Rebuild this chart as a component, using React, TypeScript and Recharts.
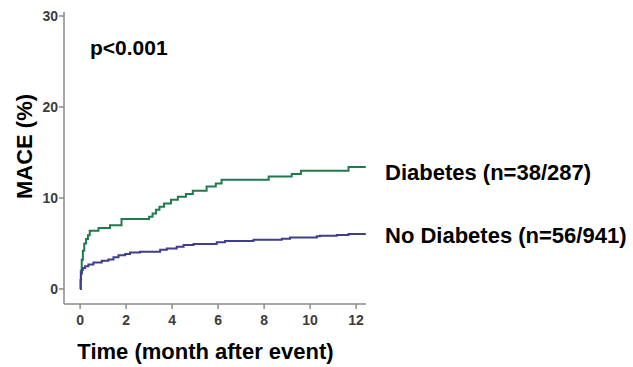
import React from "react";
import { LineChart, Line, XAxis, YAxis } from "recharts";

// months after event / cumulative MACE (%)
const monthsDiabetes = [
  0, 0.03, 0.07, 0.12, 0.18, 0.26, 0.34, 0.42, 0.8, 1.3, 1.8, 3.0, 3.15, 3.3,
  3.45, 3.65, 3.95, 4.25, 4.6, 4.9, 5.5, 5.9, 6.15, 8.2, 9.2, 9.6, 11.67, 12.42,
];
const maceDiabetes = [
  0, 2.0, 3.2, 4.2, 5.0, 5.5, 5.9, 6.4, 6.7, 7.0, 7.7, 7.95, 8.3, 8.7, 9.05,
  9.4, 9.8, 10.15, 10.45, 10.8, 11.25, 11.6, 12.0, 12.35, 12.65, 13.0, 13.4,
  13.4,
];

const monthsNoDiabetes = [
  0, 0.02, 0.04, 0.08, 0.12, 0.22, 0.36, 0.58, 0.94, 1.23, 1.45, 1.67, 1.96,
  2.17, 2.6, 3.48, 3.77, 4.2, 4.5, 4.93, 5.94, 6.3, 7.54, 8.77, 9.13, 10.29,
  10.43, 11.16, 11.67, 12.42,
];
const maceNoDiabetes = [
  0, 1.0, 1.7, 2.1, 2.3, 2.5, 2.7, 2.9, 3.1, 3.25, 3.5, 3.7, 3.85, 4.0, 4.1,
  4.3, 4.45, 4.65, 4.84, 4.95, 5.13, 5.27, 5.42, 5.53, 5.65, 5.8, 5.86, 5.93,
  6.04, 6.04,
];

const xTicks = [0, 2, 4, 6, 8, 10, 12];
const yTicks = [0, 10, 20, 30];

const diabetesLabel = "Diabetes (n=38/287)";
const noDiabetesLabel = "No Diabetes (n=56/941)";

const toRows = (ts: number[], vs: number[]) =>
  ts.map((t, i) => ({ t, v: vs[i] }));

const FONT = '"Liberation Sans", Arial, Helvetica, sans-serif';
const AXIS = "#8a8a8a";

export default function App() {
  const diabetes = toRows(monthsDiabetes, maceDiabetes);
  const noDiabetes = toRows(monthsNoDiabetes, maceNoDiabetes);

  const tickStyle = {
    fontFamily: FONT,
    fontWeight: 700,
    fontSize: 14,
    fill: "#3c3c3c",
  };

  return (
    <div
      style={{
        position: "absolute",
        left: 0,
        top: 0,
        width: 633,
        height: 367,
        background: "#fff",
      }}
    >
      <LineChart
        width={633}
        height={367}
        margin={{ top: 12, right: 267, bottom: 0, left: 0 }}
      >
        <XAxis
          type="number"
          dataKey="t"
          domain={[-0.7, 12.43]}
          ticks={xTicks}
          allowDataOverflow
          height={63}
          tickSize={5}
          tickMargin={6}
          tick={tickStyle}
          axisLine={{ stroke: AXIS, strokeWidth: 1.5 }}
          tickLine={{ stroke: AXIS, strokeWidth: 1.5 }}
        />
        <YAxis
          type="number"
          domain={[-1.65, 30.44]}
          ticks={yTicks}
          allowDataOverflow
          width={64}
          tickSize={5}
          tickMargin={1}
          tick={tickStyle}
          axisLine={{ stroke: AXIS, strokeWidth: 1.5 }}
          tickLine={{ stroke: AXIS, strokeWidth: 1.5 }}
        />
        <Line
          data={diabetes}
          dataKey="v"
          type="stepAfter"
          stroke="#1f7a4d"
          strokeWidth={2}
          dot={false}
          isAnimationActive={false}
        />
        <Line
          data={noDiabetes}
          dataKey="v"
          type="stepAfter"
          stroke="#3e3d90"
          strokeWidth={2}
          dot={false}
          isAnimationActive={false}
        />
      </LineChart>

      <svg
        width={633}
        height={367}
        style={{ position: "absolute", left: 0, top: 0, pointerEvents: "none" }}
        fontFamily={FONT}
        fontWeight={700}
        fill="#000"
      >
        <text x={90} y={55} fontSize={21}>
          p&lt;0.001
        </text>
        <text
          x={0}
          y={0}
          fontSize={22}
          textAnchor="middle"
          transform="translate(31.5,146.5) rotate(-90)"
        >
          MACE (%)
        </text>
        <text x={205.5} y={358.5} fontSize={22} textAnchor="middle">
          Time (month after event)
        </text>
        <text x={385} y={179.5} fontSize={22}>
          {diabetesLabel}
        </text>
        <text x={385} y={243} fontSize={22}>
          {noDiabetesLabel}
        </text>
      </svg>
    </div>
  );
}
